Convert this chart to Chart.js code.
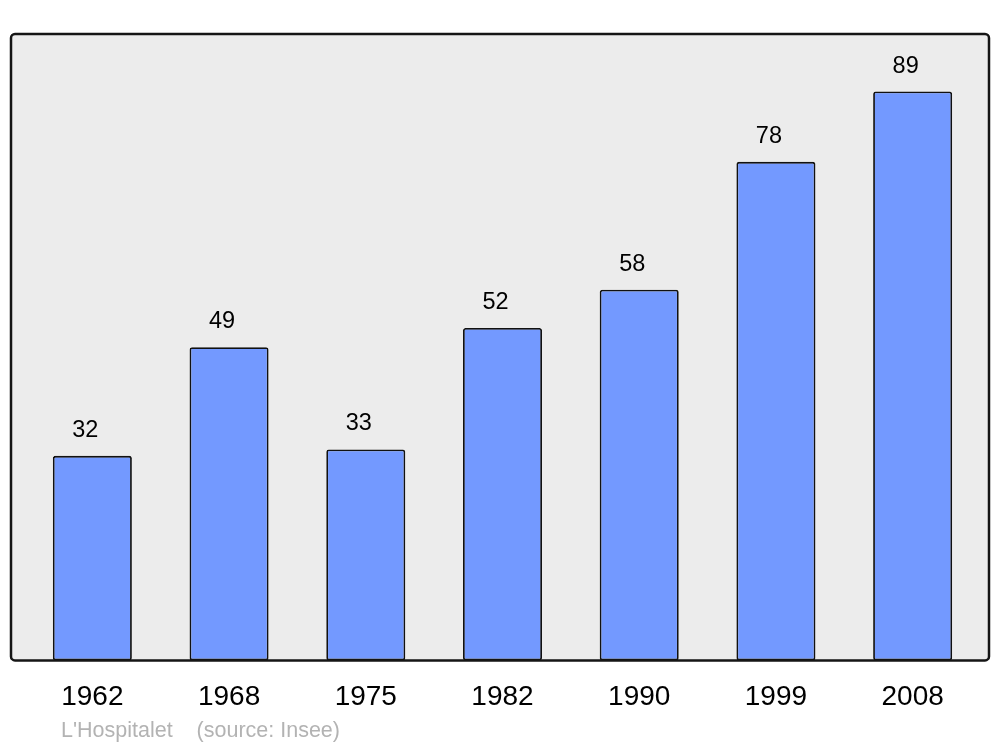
<!DOCTYPE html>
<html>
<head>
<meta charset="utf-8">
<script src="https://cdn.jsdelivr.net/npm/chart.js@4.4.0/dist/chart.umd.min.js"></script>
<style>
  html, body { margin: 0; padding: 0; background: #fff; }
  #wrap { width: 1000px; height: 747px; position: relative; }
</style>
</head>
<body>
<div id="wrap"><canvas id="chart" width="1000" height="747"></canvas></div>
<script>
  const years = ['1962', '1968', '1975', '1982', '1990', '1999', '2008'];
  const population = [32, 49, 33, 52, 58, 78, 89];
  const footerText = "L'Hospitalet    (source: Insee)";

  // frame behind the bars, rounded corners
  const framePlugin = {
    id: 'frame',
    beforeDatasetsDraw(chart) {
      const { ctx, chartArea: a } = chart;
      const x = a.left - 13, y = a.top, w = a.right + 8 - x, h = a.bottom - a.top;
      ctx.save();
      ctx.beginPath();
      ctx.roundRect(x, y, w, h, 4);
      ctx.fillStyle = '#ececec';
      ctx.fill();
      ctx.restore();
    },
    afterDatasetsDraw(chart) {
      const { ctx, chartArea: a } = chart;
      const x = a.left - 13, y = a.top, w = a.right + 8 - x, h = a.bottom - a.top;
      ctx.save();
      ctx.beginPath();
      ctx.roundRect(x, y, w, h, 4);
      ctx.lineWidth = 2.5;
      ctx.strokeStyle = '#151515';
      ctx.stroke();

      // value labels over bars (sit a little left of centre, as in the original)
      const meta = chart.getDatasetMeta(0);
      ctx.fillStyle = '#000';
      ctx.font = '23.5px "Liberation Sans", Arial, sans-serif';
      ctx.textAlign = 'center';
      ctx.textBaseline = 'alphabetic';
      meta.data.forEach((bar, i) => {
        ctx.fillText(String(population[i]), bar.x - 7, bar.y - 19);
      });

      // footer
      ctx.fillStyle = '#b3b3b3';
      ctx.font = '21.5px "Liberation Sans", Arial, sans-serif';
      ctx.textAlign = 'left';
      ctx.fillText(footerText, a.left + 37, a.bottom + 77);
      ctx.restore();
    }
  };

  new Chart(document.getElementById('chart').getContext('2d'), {
    type: 'bar',
    data: {
      labels: years,
      datasets: [{
        data: population,
        backgroundColor: '#7399ff',
        borderColor: '#111',
        borderWidth: 1.8,
        borderRadius: 2.5,
        borderSkipped: false,
        categoryPercentage: 1,
        barPercentage: 0.578
      }]
    },
    options: {
      responsive: false,
      animation: false,
      layout: { padding: { left: 24, right: 19, top: 34, bottom: 13 } },
      plugins: {
        legend: { display: false },
        tooltip: { enabled: false }
      },
      scales: {
        x: {
          grid: { display: false, drawTicks: false },
          border: { display: false },
          ticks: {
            color: '#000',
            padding: 20,
            font: { family: '"Liberation Sans", Arial, sans-serif', size: 28 }
          }
        },
        y: {
          display: false,
          min: 0,
          max: 98
        }
      }
    },
    plugins: [framePlugin]
  });
</script>
</body>
</html>
